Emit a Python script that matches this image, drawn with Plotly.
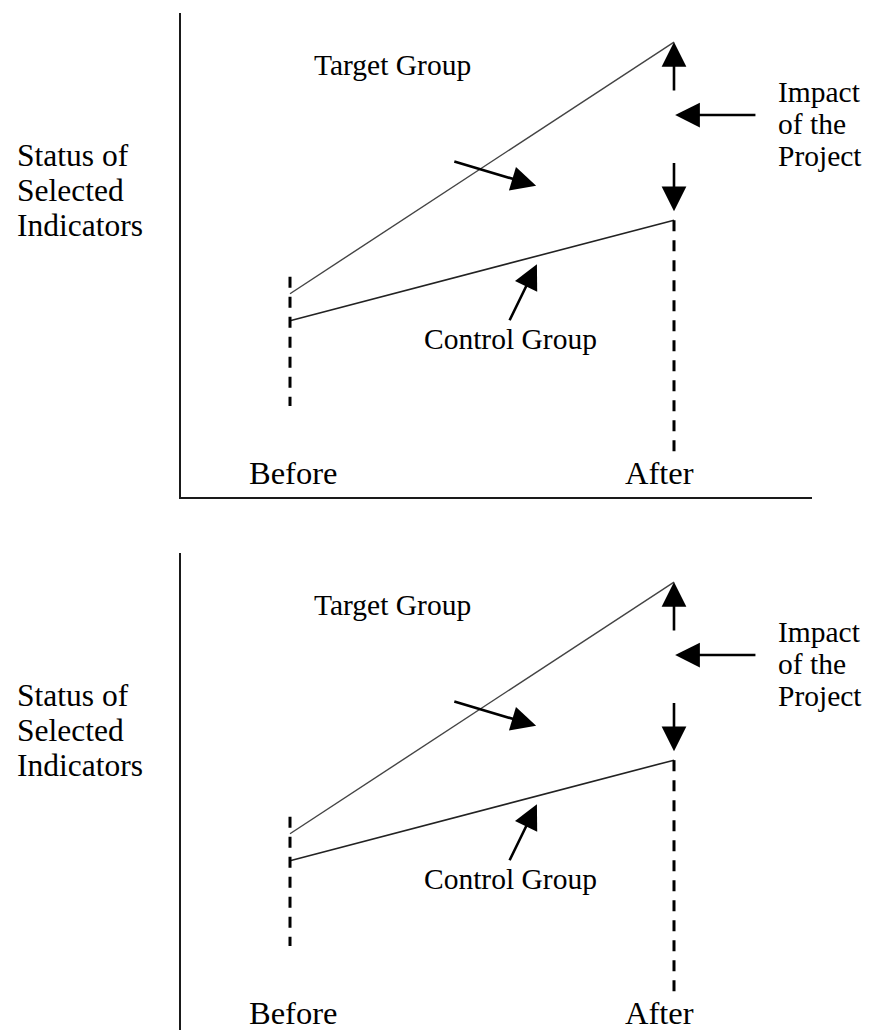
import plotly.graph_objects as go

# ---------------- data ----------------
periods = ["Before", "After"]
period_x = [0.0, 1.0]
target_group = [4.2, 9.4]        # status of selected indicators, target group
control_group = [3.64, 5.72]     # status of selected indicators, control group
before_guide = [1.88, 4.55]      # extent of dashed guide at "Before"
after_guide_bottom = 0.87        # bottom of dashed guide at "After"

y_label_lines = ["Status of", "Selected", "Indicators"]
impact_lines = ["Impact", "of the", "Project"]

FONT = "'Liberation Serif', 'Times New Roman', 'DejaVu Serif', serif"
W, H = 870, 1030
PX_PER_UNIT = 48.4
X0_PX, X1_PX = 290, 674
PX_PER_X = X1_PX - X0_PX

fig = go.Figure()
annotations = []


def add_panel(xname, yname):
    # target and control lines
    fig.add_trace(go.Scatter(x=period_x, y=target_group, mode="lines",
                             line=dict(color="#444", width=1.4),
                             xaxis=xname, yaxis=yname, hoverinfo="skip"))
    fig.add_trace(go.Scatter(x=period_x, y=control_group, mode="lines",
                             line=dict(color="#222", width=1.6),
                             xaxis=xname, yaxis=yname, hoverinfo="skip"))
    # dashed guides
    fig.add_trace(go.Scatter(x=[period_x[0]] * 2, y=[before_guide[1], before_guide[0]],
                             mode="lines", line=dict(color="black", width=3, dash="11px,9px"),
                             xaxis=xname, yaxis=yname, hoverinfo="skip"))
    fig.add_trace(go.Scatter(x=[period_x[1]] * 2, y=[control_group[1], after_guide_bottom],
                             mode="lines", line=dict(color="black", width=3, dash="11px,9px"),
                             xaxis=xname, yaxis=yname, hoverinfo="skip"))

    gap = target_group[1] - control_group[1]
    arrow = dict(showarrow=True, arrowhead=2, arrowsize=1.9, arrowwidth=2.6,
                 arrowcolor="black", text="", xref=xname, yref=yname,
                 axref=xname, ayref=yname, standoff=0, startstandoff=0)
    # impact up arrow
    annotations.append(dict(arrow, x=period_x[1], y=target_group[1],
                            ax=period_x[1], ay=target_group[1] - 0.28 * gap))
    # impact down arrow
    annotations.append(dict(arrow, x=period_x[1], y=control_group[1] + 0.05 * gap,
                            ax=period_x[1], ay=control_group[1] + 0.33 * gap))
    # left arrow from label
    annotations.append(dict(arrow, x=period_x[1] + 0.003, y=control_group[1] + 0.59 * gap,
                            ax=1.216, ay=control_group[1] + 0.59 * gap))
    # pointer to gap region
    annotations.append(dict(arrow, x=0.641, y=6.43, ax=0.424, ay=6.94))
    # pointer to control line
    annotations.append(dict(arrow, x=0.643, y=4.81, ax=0.570, ay=3.62))

    # text labels
    annotations.append(dict(text="Target Group", x=0.268, y=8.93, xref=xname, yref=yname,
                            showarrow=False, font=dict(family=FONT, size=29.5, color="black")))
    annotations.append(dict(text="Control Group", x=0.573, y=3.27, xref=xname, yref=yname,
                            showarrow=False, font=dict(family=FONT, size=29.5, color="black")))
    for i, t in enumerate(impact_lines):
        annotations.append(dict(text=t, x=1.266, y=7.71 + (1 - i) * 32 / PX_PER_UNIT,
                                xref=xname, yref=yname, xanchor="left", showarrow=False,
                                font=dict(family=FONT, size=29.5, color="black")))
    for i, t in enumerate(y_label_lines):
        annotations.append(dict(text=t, x=15 / W, y=6.34 + (1 - i) * 35 / PX_PER_UNIT,
                                xref="paper", yref=yname, xanchor="left", showarrow=False,
                                font=dict(family=FONT, size=31.5, color="black")))
    for px_, lab in zip([0.008, 0.963], periods):
        annotations.append(dict(text=lab, x=px_, y=0.50, xref=xname, yref=yname,
                                showarrow=False, font=dict(family=FONT, size=32.5, color="black")))


add_panel("x", "y")
add_panel("x2", "y2")

x_range = [(181 - X0_PX) / PX_PER_X, (812 - X0_PX) / PX_PER_X]
x_dom = [181 / W, 812 / W]
common_x = dict(range=x_range, domain=x_dom, showgrid=False, zeroline=False,
                showticklabels=False, ticks="", fixedrange=True)
common_y = dict(showgrid=False, zeroline=False, showticklabels=False, ticks="",
                fixedrange=True, showline=True, linecolor="#1a1a1a", linewidth=2)

fig.update_layout(
    width=W, height=H, autosize=False,
    margin=dict(l=0, r=0, t=0, b=0, pad=0),
    paper_bgcolor="white", plot_bgcolor="white",
    showlegend=False,
    font=dict(family=FONT),
    xaxis=dict(common_x, anchor="y", showline=True, linecolor="#1a1a1a", linewidth=2),
    yaxis=dict(common_y, anchor="x", domain=[(H - 497) / H, (H - 13) / H], range=[0, 10]),
    xaxis2=dict(common_x, anchor="y2", showline=False),
    yaxis2=dict(common_y, anchor="x2", domain=[0, (H - 553) / H],
                range=[(1037 - 1030) / PX_PER_UNIT, 10]),
    annotations=annotations,
)

fig.write_html("out.html", config={"displayModeBar": False, "staticPlot": True},
               post_script="document.body.style.margin='0';document.body.style.padding='0';")
